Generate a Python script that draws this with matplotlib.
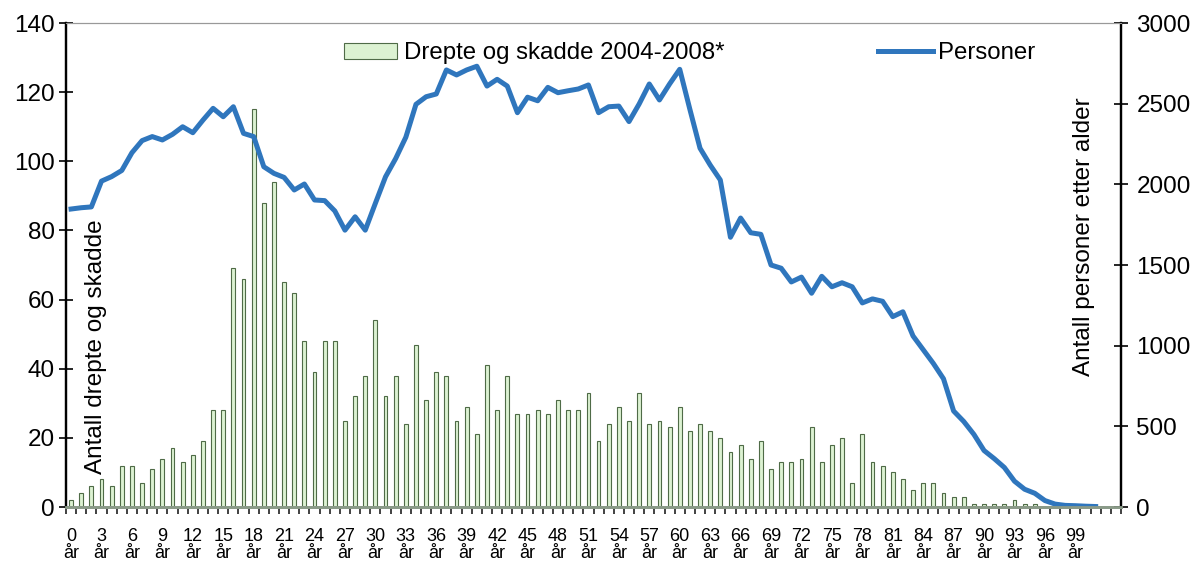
import numpy as np
import matplotlib.pyplot as plt
from matplotlib.ticker import FixedLocator, MultipleLocator

plt.rcParams['font.family'] = ['Liberation Sans', 'DejaVu Sans']

# ages 0..103 as categories, every third one labelled up to 99
ages = list(range(104))
tick_ages = list(range(0, 100, 3))
tick_labels = ["{}\når".format(a) for a in tick_ages]

# killed and injured 2004-2008, per age
injured = [2, 4, 6, 8, 6, 12, 12, 7, 11, 14, 17, 13, 15, 19, 28, 28, 69, 66, 115, 88,
           94, 65, 62, 48, 39, 48, 48, 25, 32, 38, 54, 32, 38, 24, 47, 31, 39, 38, 25, 29,
           21, 41, 28, 38, 27, 27, 28, 27, 31, 28, 28, 33, 19, 24, 29, 25, 33, 24, 25, 23,
           29, 22, 24, 22, 20, 16, 18, 14, 19, 11, 13, 13, 14, 23, 13, 18, 20, 7, 21, 13,
           12, 10, 8, 5, 7, 7, 4, 3, 3, 1, 1, 1, 1, 2, 1, 1, 0, 0, 0, 0,
           0, 0, 0, 0]

# persons per age (right axis), ages 0..101
persons = [1847, 1855, 1860, 2020, 2048, 2086, 2196, 2271, 2296, 2275,
           2310, 2357, 2320, 2398, 2471, 2419, 2481, 2316, 2296, 2109,
           2068, 2043, 1965, 2002, 1903, 1899, 1835, 1716, 1799, 1716,
           1883, 2047, 2160, 2292, 2496, 2543, 2560, 2709, 2678, 2709,
           2732, 2609, 2651, 2609, 2444, 2540, 2518, 2601, 2568, 2580,
           2591, 2616, 2444, 2481, 2485, 2389, 2498, 2622, 2523, 2622,
           2713, 2465, 2224, 2120, 2027, 1672, 1791, 1700, 1690, 1500,
           1480, 1395, 1425, 1325, 1430, 1365, 1390, 1365, 1265, 1290,
           1275, 1180, 1210, 1060, 975, 890, 795, 595, 530, 450,
           350, 300, 245, 160, 110, 85, 40, 18, 10, 8, 5, 3]

W, H = 1194, 564
fig = plt.figure(figsize=(W / 100, H / 100), dpi=100)
ax = fig.add_axes([66 / W, 1 - 507 / H, (1121 - 66) / W, (507 - 23) / H])
ax2 = ax.twinx()

bars = ax.bar(ages, injured, width=0.38, color='#dcf2d2', edgecolor='#4f6b47',
              linewidth=0.8, label='Drepte og skadde 2004-2008*', zorder=2)
line, = ax2.plot(range(len(persons)), persons, color='#2f76bd', linewidth=3.6,
                 solid_joinstyle='round', label='Personer')

ax.set_xlim(-0.5, len(ages) - 0.5)
ax.set_ylim(0, 140)
ax2.set_ylim(0, 3000)

ax.set_xticks(tick_ages)
ax.set_xticklabels(tick_labels, fontsize=13, linespacing=1.05)
ax.xaxis.set_minor_locator(FixedLocator(np.arange(-0.5, len(ages), 1)))
ax.tick_params(axis='x', which='major', length=0, pad=15)
ax.tick_params(axis='x', which='minor', length=5, width=1.3, color='#333333', direction='out')

ax.yaxis.set_major_locator(MultipleLocator(20))
ax.tick_params(axis='y', direction='inout', length=10, width=1.2, labelsize=17.5, pad=3)
ax2.yaxis.set_major_locator(MultipleLocator(500))
ax2.tick_params(axis='y', direction='inout', length=10, width=1.2, labelsize=17.5, pad=6)

for a in (ax, ax2):
    a.spines['top'].set_color('#999999')
    a.spines['top'].set_linewidth(0.8)
    a.spines['left'].set_linewidth(1.6)
    a.spines['right'].set_linewidth(1.6)
    a.spines['bottom'].set_color('#8a9a88')
    a.spines['bottom'].set_linewidth(2)

fig.text(96 / W, 1 - 347 / H, 'Antall drepte og skadde', rotation=90,
         ha='center', va='center', fontsize=17.5)
fig.text(1084 / W, 1 - 237 / H, 'Antall personer etter alder', rotation=90,
         ha='center', va='center', fontsize=17.5)

fig.legend(handles=[bars], loc='center left', bbox_to_anchor=(344 / W, 1 - 53 / H),
           frameon=False, fontsize=17.3, handlelength=2.2, handleheight=0.65,
           handletextpad=0.3, borderpad=0, borderaxespad=0)
fig.legend(handles=[line], loc='center left', bbox_to_anchor=(878 / W, 1 - 53 / H),
           frameon=False, fontsize=17.3, handlelength=2.3,
           handletextpad=0.2, borderpad=0, borderaxespad=0)

fig.savefig('out.png', dpi=100)
